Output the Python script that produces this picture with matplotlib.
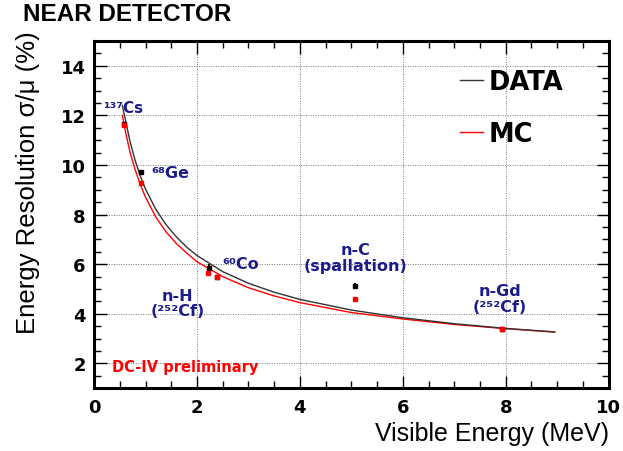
import matplotlib
matplotlib.use("Agg")
import matplotlib.pyplot as plt
from matplotlib.ticker import MultipleLocator

plt.rcParams['font.family'] = ['Liberation Sans', 'DejaVu Sans']

# fitted resolution curves
curve_e = [0.55, 0.6, 0.7, 0.8, 0.9, 1.0, 1.2, 1.4, 1.6, 1.8, 2.0, 2.5,
           3.0, 3.5, 4.0, 5.0, 6.0, 7.0, 8.0, 8.95]
data_curve = [12.4, 11.91, 10.94, 10.17, 9.55, 9.03, 8.21, 7.59, 7.10, 6.69,
              6.35, 5.70, 5.23, 4.87, 4.58, 4.15, 3.84, 3.60, 3.41, 3.27]
mc_curve = [12.0, 11.45, 10.5, 9.8, 9.2, 8.7, 7.9, 7.3, 6.83, 6.45,
            6.1, 5.5, 5.05, 4.72, 4.45, 4.05, 3.79, 3.57, 3.40, 3.26]

# calibration sources: Cs, Ge, n-H, Co, n-C, n-Gd
src_e_data = [0.58, 0.91, 2.23, 2.39, 5.08, 7.92]
src_res_data = [11.65, 9.70, 5.86, 5.47, 5.13, 3.39]
src_err_data = [0.05, 0.05, 0.14, 0.05, 0.10, 0.04]
src_e_mc = [0.58, 0.91, 2.21, 2.39, 5.08, 7.92]
src_res_mc = [11.60, 9.29, 5.65, 5.47, 4.60, 3.39]
src_err_mc = [0.05, 0.05, 0.14, 0.05, 0.08, 0.04]

blue = '#1c1c8c'
bold_font = {'family': 'DejaVu Sans', 'weight': 'bold'}

fig = plt.figure(figsize=(6.23, 4.52), dpi=100)
ax = fig.add_axes([0.151, 0.139, 0.826, 0.768])

ax.plot(curve_e, data_curve, color='#333333', lw=1.0, label='DATA', zorder=3)
ax.plot(curve_e, mc_curve, color='red', lw=1.0, label='MC', zorder=2)

ax.errorbar(src_e_data, src_res_data, yerr=src_err_data, fmt='s', ms=2.5,
            color='black', elinewidth=1.5, capsize=0, zorder=4)
ax.errorbar(src_e_mc, src_res_mc, yerr=src_err_mc, fmt='s', ms=2.5,
            color='red', elinewidth=1.5, capsize=0, zorder=4)

ax.set_xlim(0, 10)
ax.set_ylim(1, 15)
ax.xaxis.set_major_locator(MultipleLocator(2))
ax.xaxis.set_minor_locator(MultipleLocator(0.5))
ax.yaxis.set_minor_locator(MultipleLocator(0.5))
ax.set_yticks([2, 4, 6, 8, 10, 12, 14])
ax.tick_params(which='both', direction='in', top=True, right=True, width=1)
ax.tick_params(which='major', length=9, labelsize=13)
ax.tick_params(which='minor', length=5)
ax.tick_params(axis='x', pad=7)
ax.tick_params(axis='y', pad=6)
for lab in ax.get_xticklabels() + ax.get_yticklabels():
    lab.set_fontfamily('DejaVu Sans')
    lab.set_fontweight('bold')
ax.grid(True, which='major', linestyle=(0, (1, 1.5)), color='#777777', lw=0.7)
for sp in ax.spines.values():
    sp.set_linewidth(2.2)

ax.set_xlabel('Visible Energy (MeV)', fontsize=18, loc='right', labelpad=4)
fig.text(0.045, 0.596, 'Energy Resolution σ/μ (%)', fontsize=18.5, rotation=90,
         ha='center', va='center')

# source labels
ax.text(0.17, 12.33, '¹³⁷Cs', color=blue, fontsize=11, fontdict=bold_font, va='center')
ax.text(1.12, 9.70, '⁶⁸Ge', color=blue, fontsize=11.5, fontdict=bold_font, va='center')
ax.text(2.5, 6.01, '⁶⁰Co', color=blue, fontsize=11.5, fontdict=bold_font, va='center')
ax.text(1.62, 4.43, 'n-H\n(²⁵²Cf)', color=blue, fontsize=11.5, fontdict=bold_font,
        ha='center', va='center', linespacing=1.05)
ax.text(5.08, 6.27, 'n-C\n(spallation)', color=blue, fontsize=11.5, fontdict=bold_font,
        ha='center', va='center', linespacing=1.05)
ax.text(7.89, 4.62, 'n-Gd\n(²⁵²Cf)', color=blue, fontsize=11.5, fontdict=bold_font,
        ha='center', va='center', linespacing=1.05)
ax.text(0.34, 1.88, 'DC-IV preliminary', color='red', fontsize=10.5, fontdict=bold_font,
        va='center')

leg = ax.legend(loc='upper left', bbox_to_anchor=(0.711, 0.92), frameon=False,
                prop={'family': 'DejaVu Sans', 'size': 18.5, 'weight': 'bold'},
                handlelength=0.9, handletextpad=0.22, labelspacing=1.0,
                borderpad=0, borderaxespad=0)

fig.text(0.037, 0.967, 'NEAR DETECTOR', fontsize=17.5, fontweight='bold', va='center')

fig.savefig('out.png', dpi=100)
